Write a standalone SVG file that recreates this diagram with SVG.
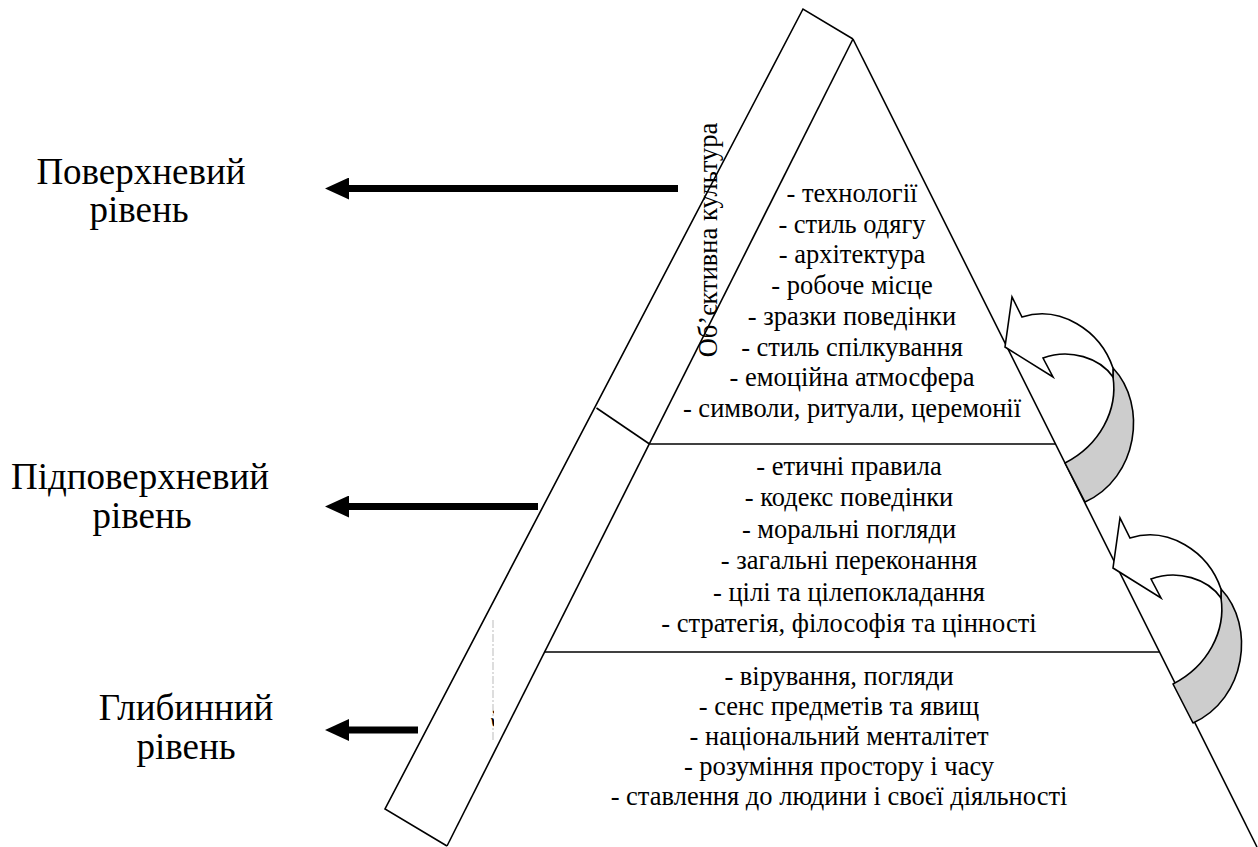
<svg xmlns="http://www.w3.org/2000/svg" width="1258" height="847" viewBox="0 0 1258 847">
<defs>
<style>
.ln{fill:none;stroke:#000;stroke-width:1.6}
.arr{stroke:#000;stroke-width:7;fill:none}
.g{fill:#cdcdcd;stroke:#000;stroke-width:1.6;stroke-linejoin:round}
.w{fill:#fff;stroke:#000;stroke-width:1.6;stroke-linejoin:miter}
</style>
<marker id="ah" markerUnits="userSpaceOnUse" markerWidth="24" markerHeight="22" viewBox="0 0 24 22" refX="0" refY="11" orient="auto">
<path d="M0,0 L24,11 L0,22 z" fill="#000"/>
</marker>
<clipPath id="frag"><rect x="486" y="700" width="8" height="44"/></clipPath>
<g id="curl">
<path class="g" d="M1113,368 C1148,405 1138,478 1085,502 L1065,463 C1100,445 1118,410 1113,377 Z"/>
<path class="w" d="M1005,347 L1012,297 L1022,317 C1060,305 1100,330 1113,368 L1113,377 C1100,358 1070,348 1043,358 L1053,377 Z"/>
</g>
</defs>
<rect width="1258" height="847" fill="#fff"/>

<g id="slab">
<path class="ln" d="M853,39 L803,9 L385,809 L447,846"/>
<line class="ln" x1="596.5" y1="408" x2="649.5" y2="444"/>
<line x1="493" y1="620" x2="493" y2="742" stroke="#bbb" stroke-width="1" stroke-dasharray="8,2,2,2"/>
<text font-family="Liberation Serif" font-size="26.5" text-anchor="middle" transform="translate(717,240) rotate(-90)">Об’єктивна культура</text>
<g clip-path="url(#frag)"><text font-family="Liberation Serif" font-size="26.5" transform="translate(511,760) rotate(-90)">Суб’єктивна культура</text></g>
</g>

<g id="pyramid">
<line class="ln" x1="853" y1="39" x2="1257" y2="847"/>
<line class="ln" x1="853" y1="39" x2="447" y2="846"/>
<line class="ln" x1="649.5" y1="444" x2="1055.5" y2="444"/>
<line class="ln" x1="544" y1="652" x2="1159.5" y2="652"/>
</g>

<g id="tier-top">
<text font-family="Liberation Serif" font-size="26.5" text-anchor="middle" x="852" y="202">- технології</text>
<text font-family="Liberation Serif" font-size="26.5" text-anchor="middle" x="852" y="232.7">- стиль одягу</text>
<text font-family="Liberation Serif" font-size="26.5" text-anchor="middle" x="852" y="263.4">- архітектура</text>
<text font-family="Liberation Serif" font-size="26.5" text-anchor="middle" x="852" y="294.1">- робоче місце</text>
<text font-family="Liberation Serif" font-size="26.5" text-anchor="middle" x="852" y="324.8">- зразки поведінки</text>
<text font-family="Liberation Serif" font-size="26.5" text-anchor="middle" x="852" y="355.5">- стиль спілкування</text>
<text font-family="Liberation Serif" font-size="26.5" text-anchor="middle" x="852" y="386.2">- емоційна атмосфера</text>
<text font-family="Liberation Serif" font-size="26.5" text-anchor="middle" x="852" y="416.9">- символи, ритуали, церемонії</text>
</g>

<g id="tier-middle">
<text font-family="Liberation Serif" font-size="26.5" text-anchor="middle" x="849" y="475">- етичні правила</text>
<text font-family="Liberation Serif" font-size="26.5" text-anchor="middle" x="849" y="506.4">- кодекс поведінки</text>
<text font-family="Liberation Serif" font-size="26.5" text-anchor="middle" x="849" y="537.8">- моральні погляди</text>
<text font-family="Liberation Serif" font-size="26.5" text-anchor="middle" x="849" y="569.2">- загальні переконання</text>
<text font-family="Liberation Serif" font-size="26.5" text-anchor="middle" x="849" y="600.6">- цілі та цілепокладання</text>
<text font-family="Liberation Serif" font-size="26.5" text-anchor="middle" x="849" y="632">- стратегія, філософія та цінності</text>
</g>

<g id="tier-bottom">
<text font-family="Liberation Serif" font-size="26.5" text-anchor="middle" x="839" y="685">- вірування, погляди</text>
<text font-family="Liberation Serif" font-size="26.5" text-anchor="middle" x="839" y="715">- сенс предметів та явищ</text>
<text font-family="Liberation Serif" font-size="26.5" text-anchor="middle" x="839" y="745">- національний менталітет</text>
<text font-family="Liberation Serif" font-size="26.5" text-anchor="middle" x="839" y="775">- розуміння простору і часу</text>
<text font-family="Liberation Serif" font-size="26.5" text-anchor="middle" x="839" y="805">- ставлення до людини і своєї діяльності</text>
</g>

<g id="curl-1"><use href="#curl"/></g>
<g id="curl-2"><use href="#curl" transform="translate(108,221)"/></g>

<g id="label-surface">
<text font-family="Liberation Serif" font-size="37" text-anchor="middle" x="141" y="184">Поверхневий</text>
<text font-family="Liberation Serif" font-size="37" text-anchor="middle" x="139" y="222">рівень</text>
</g>
<g id="label-subsurface">
<text font-family="Liberation Serif" font-size="37" text-anchor="middle" x="140" y="489">Підповерхневий</text>
<text font-family="Liberation Serif" font-size="37" text-anchor="middle" x="142" y="528">рівень</text>
</g>
<g id="label-deep">
<text font-family="Liberation Serif" font-size="37" text-anchor="middle" x="186" y="720">Глибинний</text>
<text font-family="Liberation Serif" font-size="37" text-anchor="middle" x="186" y="759">рівень</text>
</g>

<g id="connectors">
<line class="arr" x1="678" y1="188.5" x2="349" y2="188.5" marker-end="url(#ah)"/>
<line class="arr" x1="538" y1="506.5" x2="349" y2="506.5" marker-end="url(#ah)"/>
<line class="arr" x1="418" y1="730" x2="349" y2="730" marker-end="url(#ah)"/>
</g>
</svg>
